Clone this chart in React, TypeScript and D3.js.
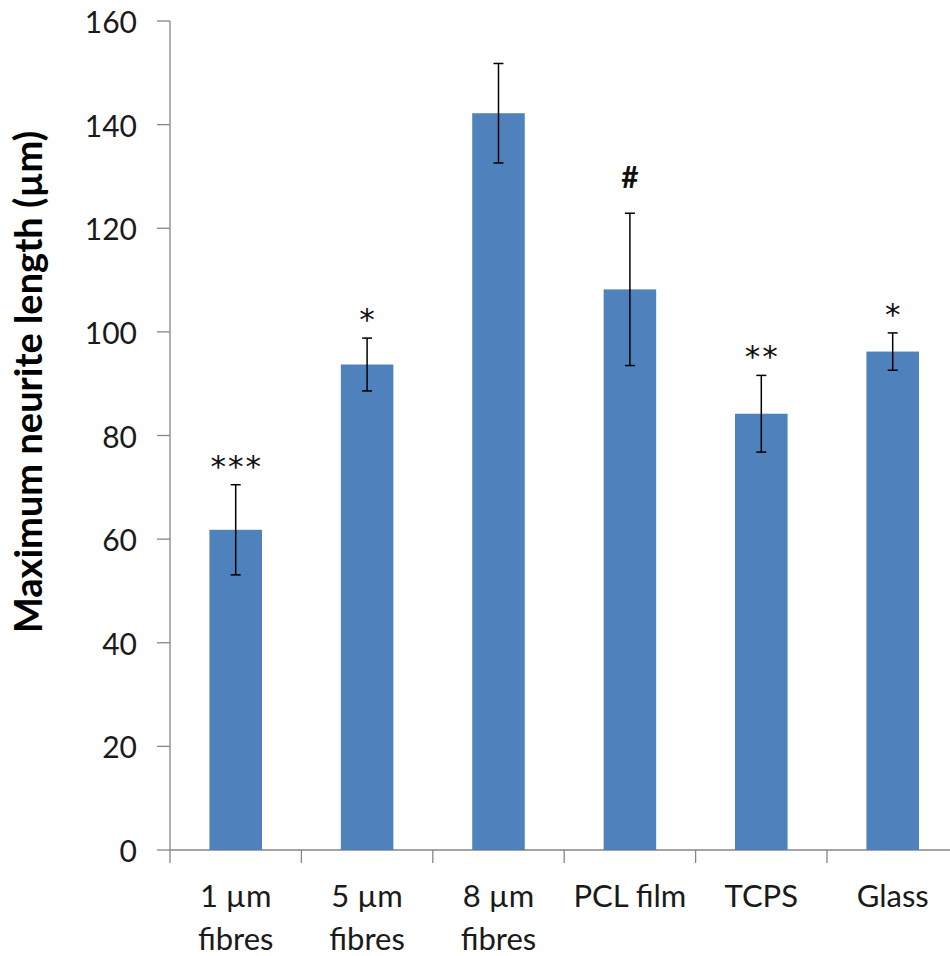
import React from "react";
import * as d3 from "d3";

const categories: string[][] = [
  ["1 µm", "fibres"],
  ["5 µm", "fibres"],
  ["8 µm", "fibres"],
  ["PCL film"],
  ["TCPS"],
  ["Glass"],
];
const values: number[] = [61.8, 93.7, 142.2, 108.2, 84.2, 96.2];
const errors: number[] = [8.7, 5.1, 9.6, 14.7, 7.4, 3.6];
const marks: string[] = ["***", "*", "", "#", "**", "*"];
const yTicks: number[] = [0, 20, 40, 60, 80, 100, 120, 140, 160];
const yTitle = "Maximum neurite length (µm)";

const W = 950;
const H = 956;
const FONT = "Lato, 'Open Sans', sans-serif";

export default function App() {
  const x = d3
    .scaleBand<number>()
    .domain(values.map((_, i) => i))
    .range([170, 170 + 131.4 * 6])
    .paddingInner(0)
    .paddingOuter(0);
  const y = d3.scaleLinear().domain([0, 160]).range([850, 21]);
  const barW = x.bandwidth() / 2.5;
  const axisColor = "#868686";
  const barColor = "#4F81BD";

  return (
    <svg
      width={W}
      height={H}
      style={{ position: "absolute", left: 0, top: 0, background: "#fff" }}
      fontFamily={FONT}
    >
      {/* y axis */}
      <line x1={170} x2={170} y1={y(160)} y2={y(0)} stroke={axisColor} strokeWidth={1.3} />
      {yTicks.map((t) => (
        <g key={t}>
          <line x1={157} x2={170} y1={y(t)} y2={y(t)} stroke={axisColor} strokeWidth={1.3} />
          <text
            x={137}
            y={y(t)}
            textAnchor="end"
            dominantBaseline="central"
            fontSize={30}
            fill="#1a1a1a"
          >
            {t}
          </text>
        </g>
      ))}
      {/* x axis */}
      <line x1={170} x2={W} y1={y(0)} y2={y(0)} stroke={axisColor} strokeWidth={1.3} />
      {values.map((_, i) => (
        <line
          key={"xt" + i}
          x1={x(i)!}
          x2={x(i)!}
          y1={y(0)}
          y2={y(0) + 13}
          stroke={axisColor}
          strokeWidth={1.3}
        />
      ))}
      {/* bars */}
      {values.map((v, i) => {
        const cx = x(i)! + x.bandwidth() / 2;
        const top = y(v + errors[i]);
        const bot = y(v - errors[i]);
        const isHash = marks[i] === "#";
        return (
          <g key={"b" + i}>
            <rect x={cx - barW / 2} y={y(v)} width={barW} height={y(0) - y(v)} fill={barColor} />
            <line x1={cx} x2={cx} y1={top} y2={bot} stroke="#000" strokeWidth={1.5} />
            <line x1={cx - 5} x2={cx + 5} y1={top} y2={top} stroke="#000" strokeWidth={1.5} />
            <line x1={cx - 5} x2={cx + 5} y1={bot} y2={bot} stroke="#000" strokeWidth={1.5} />
            {marks[i] && (
              <text
                x={cx + (isHash ? 0 : 1)}
                y={isHash ? top - 25 : top - 8}
                textAnchor="middle"
                fontSize={isHash ? 30 : 31}
                fontWeight={isHash ? 700 : 400}
                fontFamily={isHash ? FONT : "'DejaVu Sans', sans-serif"}
                fill="#111"
                letterSpacing={isHash ? 0 : 2}
              >
                {marks[i]}
              </text>
            )}
          </g>
        );
      })}
      {/* x labels */}
      {categories.map((lines, i) => {
        const cx = x(i)! + x.bandwidth() / 2;
        return (
          <text key={"xl" + i} textAnchor="middle" fontSize={31} fill="#1a1a1a">
            {lines.map((l, j) => (
              <tspan key={j} x={cx} y={907 + j * 43}>
                {l}
              </tspan>
            ))}
          </text>
        );
      })}
      {/* y title */}
      <text
        transform={`translate(42, ${382}) rotate(-90)`}
        textAnchor="middle"
        fontSize={38}
        fontWeight={700}
        fill="#000"
      >
        {yTitle}
      </text>
    </svg>
  );
}
